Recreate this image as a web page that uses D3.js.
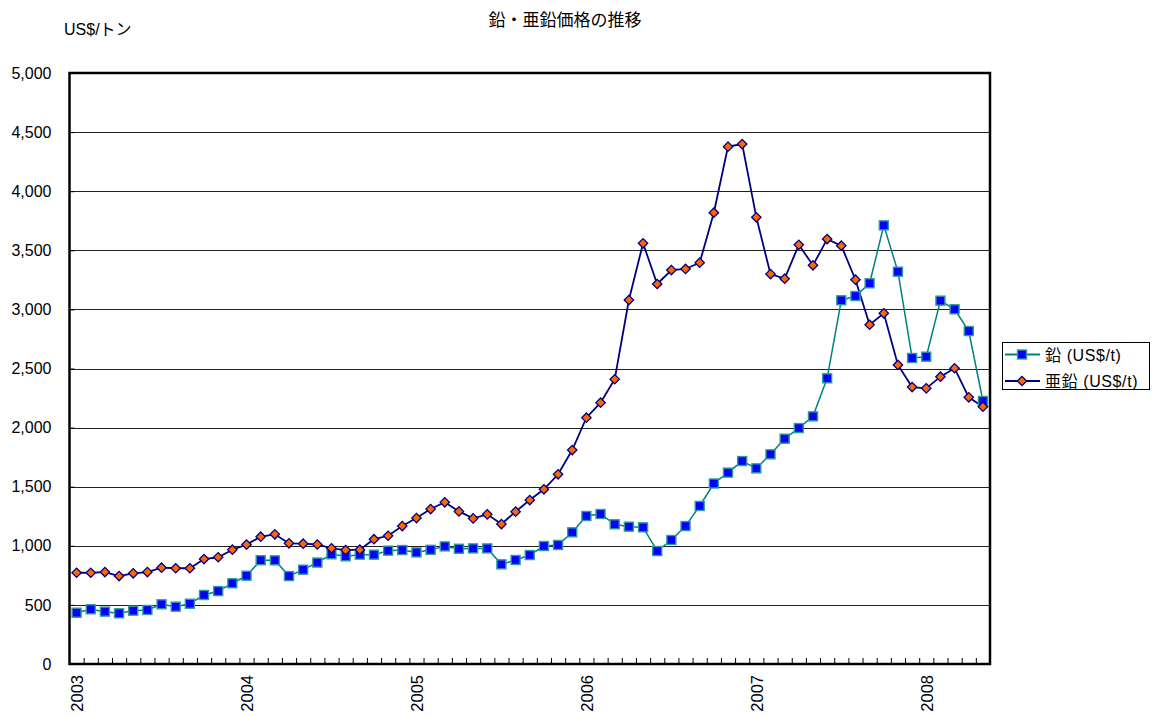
<!DOCTYPE html>
<html>
<head>
<meta charset="utf-8">
<script src="https://cdn.jsdelivr.net/npm/d3@7"></script>
<style>
  body { margin: 0; background: #fff; }
  text { font-family: "Liberation Sans", Arial, sans-serif; }
  .jp { font-family: "Liberation Sans", "Noto Sans CJK JP", sans-serif; }
</style>
</head>
<body>
<div id="chart"></div>
<script>
// monthly categories Jan 2003 - May 2008
var months = d3.range(65).map(function(i) { return (2003 + Math.floor(i / 12)) + "/" + (i % 12 + 1); });
var yearLabels = ["2003", "2004", "2005", "2006", "2007", "2008"];
var yTicks = [0, 500, 1000, 1500, 2000, 2500, 3000, 3500, 4000, 4500, 5000];

// 鉛 (lead) US$/t
var lead = [434, 463, 443, 429, 451, 457, 505, 485, 510, 584, 617, 683,
            747, 878, 877, 744, 798, 858, 928, 911, 925, 925, 959, 964,
            944, 966, 995, 975, 978, 978, 843, 880, 922, 998, 1007, 1114,
            1252, 1269, 1182, 1162, 1156, 956, 1049, 1167, 1337, 1527, 1619, 1717,
            1655, 1774, 1906, 1996, 2095, 2417, 3077, 3113, 3221, 3711, 3319, 2589,
            2600, 3074, 3001, 2817, 2225];

// 亜鉛 (zinc) US$/t
var zinc = [772, 772, 778, 744, 767, 778, 815, 810, 810, 888, 903, 967,
            1010, 1077, 1097, 1021, 1018, 1011, 979, 964, 967, 1056, 1085, 1167,
            1235, 1311, 1368, 1291, 1232, 1266, 1184, 1289, 1387, 1478, 1605, 1810,
            2084, 2211, 2409, 3079, 3559, 3215, 3333, 3342, 3395, 3818, 4377, 4399,
            3779, 3299, 3260, 3547, 3373, 3595, 3539, 3251, 2870, 2967, 2530, 2343,
            2332, 2431, 2502, 2256, 2177];

var W = 1153, H = 717;
var plotL = 69.5, plotR = 990, plotT = 73, plotB = 664;

var svg = d3.select("#chart").append("svg")
  .attr("width", W)
  .attr("height", H);

var x = d3.scaleLinear().domain([0, months.length]).range([plotL, plotR]);
var y = d3.scaleLinear().domain([0, 5000]).range([plotB, plotT]);

// gridlines
svg.append("g")
  .selectAll("line")
  .data(yTicks.filter(function(d) { return d > 0 && d < 5000; }))
  .enter().append("line")
  .attr("x1", plotL).attr("x2", plotR)
  .attr("y1", function(d) { return Math.round(y(d)) + 0.5; })
  .attr("y2", function(d) { return Math.round(y(d)) + 0.5; })
  .attr("stroke", "#222")
  .attr("stroke-width", 1);

// y axis labels
var yAxis = svg.append("g")
  .attr("transform", "translate(" + plotL + ",0)")
  .call(d3.axisLeft(y).tickValues(yTicks).tickSize(-5).tickPadding(18).tickFormat(d3.format(",")));
yAxis.select(".domain").remove();
yAxis.selectAll("line").attr("stroke", "#000");
yAxis.selectAll("text").style("font-size", "16px").attr("fill", "#000");

// x axis tick marks at month boundaries
var xTickAxis = svg.append("g")
  .attr("transform", "translate(0," + plotB + ")")
  .call(d3.axisBottom(x).tickValues(d3.range(1, months.length)).tickSize(-6).tickFormat(""));
xTickAxis.select(".domain").remove();
xTickAxis.selectAll("line").attr("stroke", "#000");

// year labels (January of each year)
var yearIdx = yearLabels.map(function(d, i) { return i * 12 + 0.5; });
var xLab = svg.append("g")
  .attr("transform", "translate(0," + plotB + ")")
  .call(d3.axisBottom(x).tickValues(yearIdx).tickSize(0)
    .tickFormat(function(d, i) { return yearLabels[i]; }));
xLab.select(".domain").remove();
xLab.selectAll("text")
  .style("font-size", "16.5px")
  .attr("fill", "#000")
  .attr("text-anchor", "end")
  .attr("dy", "0.35em")
  .attr("transform", "translate(0,11) rotate(-90)")
  .attr("x", 0).attr("y", 0);

// plot frame
svg.append("rect")
  .attr("x", plotL).attr("y", plotT)
  .attr("width", plotR - plotL).attr("height", plotB - plotT)
  .attr("fill", "none")
  .attr("stroke", "#000")
  .attr("stroke-width", 2.5);

var line = function(vals) {
  return d3.line()
    .x(function(d, i) { return x(i + 0.5); })
    .y(function(d) { return y(d); })(vals);
};

// lead
svg.append("path")
  .attr("d", line(lead))
  .attr("fill", "none")
  .attr("stroke", "#008080")
  .attr("stroke-width", 1.5);

// zinc
svg.append("path")
  .attr("d", line(zinc))
  .attr("fill", "none")
  .attr("stroke", "#000080")
  .attr("stroke-width", 1.8);

svg.selectAll(".sq")
  .data(lead)
  .enter().append("rect")
  .attr("class", "sq")
  .attr("x", function(d, i) { return x(i + 0.5) - 4.5; })
  .attr("y", function(d) { return y(d) - 4.5; })
  .attr("width", 9).attr("height", 9)
  .attr("fill", "#0000ff")
  .attr("stroke", "#2a9d9d")
  .attr("stroke-width", 1.4);

var diamond = d3.symbol().type(d3.symbolSquare).size(44);
svg.selectAll(".dm")
  .data(zinc)
  .enter().append("path")
  .attr("class", "dm")
  .attr("d", diamond)
  .attr("transform", function(d, i) { return "translate(" + x(i + 0.5) + "," + y(d) + ") rotate(45)"; })
  .attr("fill", "#ff6600")
  .attr("stroke", "#000080")
  .attr("stroke-width", 1.3);

// titles
svg.append("text")
  .attr("class", "jp")
  .attr("x", 565).attr("y", 26)
  .attr("text-anchor", "middle")
  .style("font-size", "17px")
  .text("鉛・亜鉛価格の推移");

svg.append("text")
  .attr("class", "jp")
  .attr("x", 64).attr("y", 35)
  .style("font-size", "16px")
  .text("US$/トン");

// legend
var lg = svg.append("g");
lg.append("rect")
  .attr("x", 1002.5).attr("y", 342.5)
  .attr("width", 147).attr("height", 47)
  .attr("fill", "#fff")
  .attr("stroke", "#000")
  .attr("stroke-width", 1);

var legendRows = [
  { name: "鉛 (US$/t)", stroke: "#008080", type: "sq" },
  { name: "亜鉛 (US$/t)", stroke: "#000080", type: "dm" }
];
legendRows.forEach(function(r, i) {
  var cy = 354.5 + i * 26.5;
  lg.append("line")
    .attr("x1", 1005).attr("x2", 1040)
    .attr("y1", cy).attr("y2", cy)
    .attr("stroke", r.stroke).attr("stroke-width", 1.8);
  if (r.type === "sq") {
    lg.append("rect")
      .attr("x", 1017.5).attr("y", cy - 4.5)
      .attr("width", 9).attr("height", 9)
      .attr("fill", "#0000ff").attr("stroke", "#2a9d9d").attr("stroke-width", 1.4);
  } else {
    lg.append("path")
      .attr("d", diamond)
      .attr("transform", "translate(1022," + cy + ") rotate(45)")
      .attr("fill", "#ff6600").attr("stroke", "#000080").attr("stroke-width", 1.3);
  }
  lg.append("text")
    .attr("class", "jp")
    .attr("x", 1045).attr("y", cy + 6)
    .style("font-size", "16px")
    .style("letter-spacing", "0.6px")
    .text(r.name);
});
</script>
</body>
</html>
